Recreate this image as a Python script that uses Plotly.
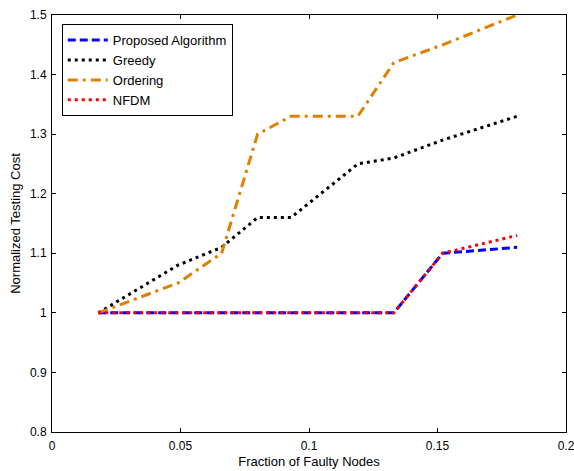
import plotly.graph_objects as go

x_vals = [0.018, 0.049, 0.066, 0.080, 0.093, 0.119, 0.133, 0.152, 0.181]
proposed = [1.0, 1.0, 1.0, 1.0, 1.0, 1.0, 1.0, 1.10, 1.11]
greedy = [1.0, 1.08, 1.11, 1.16, 1.16, 1.25, 1.26, 1.29, 1.33]
ordering = [1.0, 1.05, 1.10, 1.30, 1.33, 1.33, 1.42, 1.45, 1.50]
nfdm = [1.0, 1.0, 1.0, 1.0, 1.0, 1.0, 1.0, 1.10, 1.13]

x_ticks = [0, 0.05, 0.1, 0.15, 0.2]
x_tick_labels = ["0", "0.05", "0.1", "0.15", "0.2"]
y_ticks = [0.8, 0.9, 1.0, 1.1, 1.2, 1.3, 1.4, 1.5]
y_tick_labels = ["0.8", "0.9", "1", "1.1", "1.2", "1.3", "1.4", "1.5"]

fig = go.Figure()
fig.add_trace(go.Scatter(x=x_vals, y=proposed, mode="lines", name="Proposed Algorithm",
                         line=dict(color="#0000FF", width=3, dash="8px,4px")))
fig.add_trace(go.Scatter(x=x_vals, y=greedy, mode="lines", name="Greedy",
                         line=dict(color="#000000", width=3, dash="3px,4px")))
fig.add_trace(go.Scatter(x=x_vals, y=ordering, mode="lines", name="Ordering",
                         line=dict(color="#DF8000", width=3, dash="10px,5px,3px,5px")))
fig.add_trace(go.Scatter(x=x_vals, y=nfdm, mode="lines", name="NFDM",
                         line=dict(color="#FF0000", width=3, dash="3px,4px")))

font = dict(family="Liberation Sans, Arial, sans-serif", size=12, color="#000000")
fig.update_layout(
    width=574, height=471,
    margin=dict(l=52, r=8, t=15, b=39),
    paper_bgcolor="white", plot_bgcolor="white",
    font=font,
    showlegend=True,
    legend=dict(x=0.019, y=0.978, xanchor="left", yanchor="top",
                bordercolor="#000000", borderwidth=1, bgcolor="white",
                font=dict(family="Liberation Sans, Arial, sans-serif", size=13),
                tracegroupgap=0, itemwidth=40),
    xaxis=dict(range=[0, 0.2], tickvals=x_ticks, ticktext=x_tick_labels,
               ticks="inside", ticklen=4, tickcolor="#000", showline=True, linecolor="#000",
               linewidth=1, mirror="ticks", showgrid=False, zeroline=False, automargin=False,
               ticklabeloverflow="allow", ticklabelstandoff=3,
               title=dict(text="Fraction of Faulty Nodes", standoff=4, font=dict(size=13))),
    yaxis=dict(range=[0.8, 1.5], tickvals=y_ticks, ticktext=y_tick_labels,
               ticks="inside", ticklen=4, tickcolor="#000", showline=True, linecolor="#000",
               linewidth=1, mirror="ticks", showgrid=False, zeroline=False, automargin=False,
               ticklabeloverflow="allow", ticklabelstandoff=2,
               title=dict(text="Normalized Testing Cost", standoff=6, font=dict(size=13))),
)
fig.write_html("out.html", config={"displayModeBar": False},
               post_script="document.body.style.margin='0';document.body.style.overflow='hidden';")
